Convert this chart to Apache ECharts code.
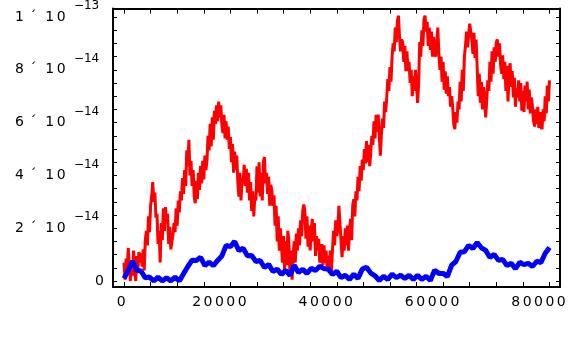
<!DOCTYPE html>
<html>
<head>
<meta charset="utf-8">
<script src="https://cdn.jsdelivr.net/npm/echarts@6/dist/echarts.min.js"></script>
<style>
  html, body { margin: 0; padding: 0; background: #fff; }
  #chart { width: 576px; height: 356px; }
</style>
</head>
<body>
<div id="chart"></div>
<script>
// ---- data (y values in units of 1e-14) ----
const RED_X_STEP = 200;   // sample spacing of the red series along x
const BLUE_X_STEP = 800;  // sample spacing of the blue series along x

const redValues = [
  0.7,0.05,0.85,0.4,1.25,0.55,0.0,0.7,0.2,1.15,0.45,0.0,0.95,0.4,1.1,0.7,1.05,0.55,1.2,0.4,1.55,
  1.9,1.35,2.45,1.85,2.85,3.2,3.75,3.0,3.35,2.4,
  2.55,1.4,1.9,0.7,2.2,1.55,2.75,1.9,2.8,2.2,2.55,1.4,2.05,1.2,1.15,1.75,
  2.2,1.85,2.75,2.1,3.05,2.6,3.4,3.05,3.9,3.3,4.2,3.6,4.95,4.35,5.35,
  4.0,4.55,3.6,4.2,3.2,2.95,3.8,3.1,4.1,3.45,4.35,3.7,4.55,3.85,4.75,4.2,
  4.55,5.5,4.95,5.95,5.1,6.2,5.35,6.45,5.95,6.65,6.05,6.8,6.2,6.65,5.9,
  5.6,6.3,5.4,6.05,5.35,5.85,5.0,5.45,4.5,5.2,4.1,4.9,4.2,4.75,3.75,
  3.2,4.1,3.05,3.9,3.7,4.4,3.6,4.25,3.35,4.1,3.05,3.75,2.65,3.4,2.45,3.2,
  3.05,4.35,3.35,4.5,3.2,4.1,3.05,4.5,4.7,3.7,4.1,3.3,3.95,2.85,3.65,
  3.4,2.85,3.25,2.1,2.85,1.5,2.45,1.15,2.0,1.35,0.7,1.7,0.4,1.5,0.6,1.9,
  1.5,0.2,1.15,0.05,0.95,1.5,0.7,1.8,1.15,2.0,1.35,2.3,1.7,2.65,2.9,
  2.65,1.6,2.45,1.3,2.1,1.16,1.9,2.35,1.5,2.2,0.95,1.7,1.15,1.6,0.7,
  0.85,1.4,0.6,1.35,0.7,1.15,0.4,0.95,0.5,1.15,0.4,1.2,1.9,1.35,2.3,1.7,
  2.0,2.85,2.2,1.55,0.9,1.7,1.15,2.0,1.35,2.1,1.15,1.85,2.35,1.55,2.85,
  3.1,2.45,3.4,3.05,3.95,3.4,4.35,3.8,4.6,4.2,5.0,4.45,5.3,4.5,5.15,4.35,
  4.9,5.5,5.15,6.05,5.4,6.3,5.65,6.3,5.5,4.75,5.55,6.15,5.8,6.8,6.4,
  6.95,7.65,7.2,8.1,7.55,8.5,9.0,8.7,9.6,9.05,9.85,10.05,9.25,8.7,9.15,
  9.05,8.3,8.9,7.95,8.7,7.95,8.3,7.5,8.0,7.0,7.75,7.2,8.0,7.4,6.75,7.5,
  9.05,8.5,9.5,8.9,9.9,10.05,9.45,9.82,8.9,9.6,8.75,9.45,8.5,9.25,8.7,
  8.5,9.05,9.6,8.6,8.0,8.5,7.55,8.3,7.25,7.94,7.1,7.75,7.0,7.35,6.6,7.0,
  6.6,5.95,5.75,6.4,6.0,6.8,6.5,7.55,6.8,8.0,7.2,8.5,8.9,9.45,8.85,
  9.35,9.75,9.82,9.15,8.6,9.4,8.45,9.15,8.1,7.0,7.85,6.75,7.55,6.5,7.35,
  7.0,6.2,6.85,7.6,7.2,8.3,7.55,8.7,7.85,8.85,8.3,9.05,9.15,8.5,9.0,8.2,
  7.85,8.55,7.65,8.3,7.2,8.15,6.8,7.75,8.25,7.35,7.95,6.95,7.7,6.6,7.3,
  6.95,7.6,6.8,7.5,6.45,7.2,6.4,7.4,6.8,7.55,6.5,7.25,6.35,6.95,6.6,6.05,
  5.85,6.5,5.95,6.6,5.8,6.4,5.85,5.75,6.5,6.05,7.0,6.35,7.4,6.8,7.6
];

const blueValues = [
  0.10,0.40,0.76,0.40,0.38,0.12,0.15,0.0,0.15,0.0,
  0.12,0.0,0.15,0.0,0.28,0.55,0.79,0.78,0.90,0.58,
  0.72,0.58,0.78,0.95,1.35,1.30,1.50,1.15,1.24,0.96,
  0.97,0.74,0.78,0.51,0.63,0.36,0.45,0.25,0.41,0.21,
  0.60,0.32,0.45,0.29,0.48,0.40,0.56,0.47,0.45,0.25,
  0.37,0.13,0.22,0.06,0.26,0.10,0.45,0.52,0.30,0.20,
  0.02,0.18,0.06,0.26,0.13,0.22,0.10,0.22,0.06,0.22,
  0.06,0.18,0.02,0.41,0.29,0.29,0.17,0.60,0.74,1.09,
  1.11,1.35,1.23,1.46,1.26,1.16,0.89,1.01,0.78,0.82,
  0.59,0.67,0.47,0.71,0.62,0.67,0.55,0.75,0.70,1.05,
  1.27
];

// ---- ticks and tick labels ----
const xLabelValues = [0, 20000, 40000, 60000, 80000];
const xLabelTexts = ['0', '20000', '40000', '60000', '80000'];
const xTickValues = [0,5000,10000,15000,20000,25000,30000,35000,40000,45000,50000,55000,60000,65000,70000,75000,80000];

const yLabelValues = [0, 2, 4, 6, 8, 10];
const yLabelMantissa = ['0', '2', '4', '6', '8', '1'];
const yLabelTimes = ' ´ ';
const yLabelBase = '10';
const yLabelExponent = ['', '−14', '−14', '−14', '−14', '−13'];
const yTickValues = [0,0.5,1,1.5,2,2.5,3,3.5,4,4.5,5,5.5,6,6.5,7,7.5,8,8.5,9,9.5,10];

// ---- build series data ----
const redData = redValues.map((v, i) => [i * RED_X_STEP, v]);
const blueData = blueValues.map((v, i) => [i * BLUE_X_STEP, v]);

const FONT = 'DejaVu Sans';
const axisLineStyle = { color: '#000', width: 2 };
const CH = { fontFamily: FONT, fontSize: 14, color: '#000', width: 11.4, align: 'center' };

// x labels: spread characters like the original's wide label typesetting
function spreadX(text) {
  const chars = text.split('');
  const last = chars.length > 1 ? 'dl5' : 'dl1';
  return chars.map((c, i) => '{' + (i === chars.length - 1 ? last : 'd') + '|' + c + '}').join('');
}

function xAxisDef(pos, showLabels) {
  return {
    type: 'value', position: pos, min: -2070, max: 81975,
    axisLine: { show: true, onZero: false, lineStyle: axisLineStyle },
    axisTick: { show: true, inside: true, length: 5, customValues: xTickValues, lineStyle: { color: '#000', width: 1 } },
    axisLabel: {
      show: showLabels, customValues: xLabelValues, margin: 8,
      fontFamily: FONT, fontSize: 14, color: '#000',
      formatter: v => spreadX(xLabelTexts[xLabelValues.indexOf(v)]),
      rich: {
        d: CH,
        dl1: Object.assign({}, CH, { padding: [0, 5.6, 0, 0] }),
        dl5: Object.assign({}, CH, { padding: [0, 22, 0, 0] })
      }
    },
    splitLine: { show: false }
  };
}

const YT = { fontFamily: FONT, fontSize: 14, color: '#000', align: 'right' };
function yAxisDef(pos, showLabels) {
  return {
    type: 'value', position: pos, min: -0.226, max: 10.32,
    axisLine: { show: true, onZero: false, lineStyle: axisLineStyle },
    axisTick: { show: true, inside: true, length: 4, customValues: yTickValues, lineStyle: { color: '#000', width: 1 } },
    axisLabel: {
      show: showLabels, customValues: yLabelValues, margin: 9,
      fontFamily: FONT, fontSize: 14, color: '#000', align: 'right',
      formatter: v => {
        const k = yLabelValues.indexOf(v);
        if (!yLabelExponent[k]) return '{z|' + yLabelMantissa[k] + '}';
        return '{m|' + yLabelMantissa[k] + '}{t|' + yLabelTimes + '}' +
          yLabelBase.split('').map(c => '{m|' + c + '}').join('') +
          '{s|' + yLabelExponent[k] + '}';
      },
      rich: {
        z: YT,
        m: Object.assign({}, YT, { padding: [0, 1.25, 0, 1.25] }),
        t: Object.assign({}, YT, { padding: [0, 3, 0, 0] }),
        s: { fontFamily: FONT, fontSize: 12, color: '#000', align: 'right', padding: [0, 4.8, 22, 7] }
      }
    },
    splitLine: { show: false }
  };
}

const chart = echarts.init(document.getElementById('chart'), null, { renderer: 'canvas' });
chart.setOption({
  animation: false,
  backgroundColor: '#fff',
  grid: { left: 113, right: 16, top: 7, bottom: 69, containLabel: false },
  xAxis: [xAxisDef('bottom', true), xAxisDef('top', false)],
  yAxis: [yAxisDef('left', true), yAxisDef('right', false)],
  series: [
    {
      name: 'red', type: 'line', data: redData, xAxisIndex: 0, yAxisIndex: 0,
      showSymbol: false, symbol: 'none', smooth: false, z: 2,
      lineStyle: { color: '#ff0000', width: 3, join: 'bevel' }
    },
    {
      name: 'blue', type: 'line', data: blueData, xAxisIndex: 0, yAxisIndex: 0,
      showSymbol: false, symbol: 'none', smooth: false, z: 3,
      lineStyle: { color: '#0000ff', width: 5, join: 'bevel' }
    }
  ]
});
</script>
</body>
</html>
